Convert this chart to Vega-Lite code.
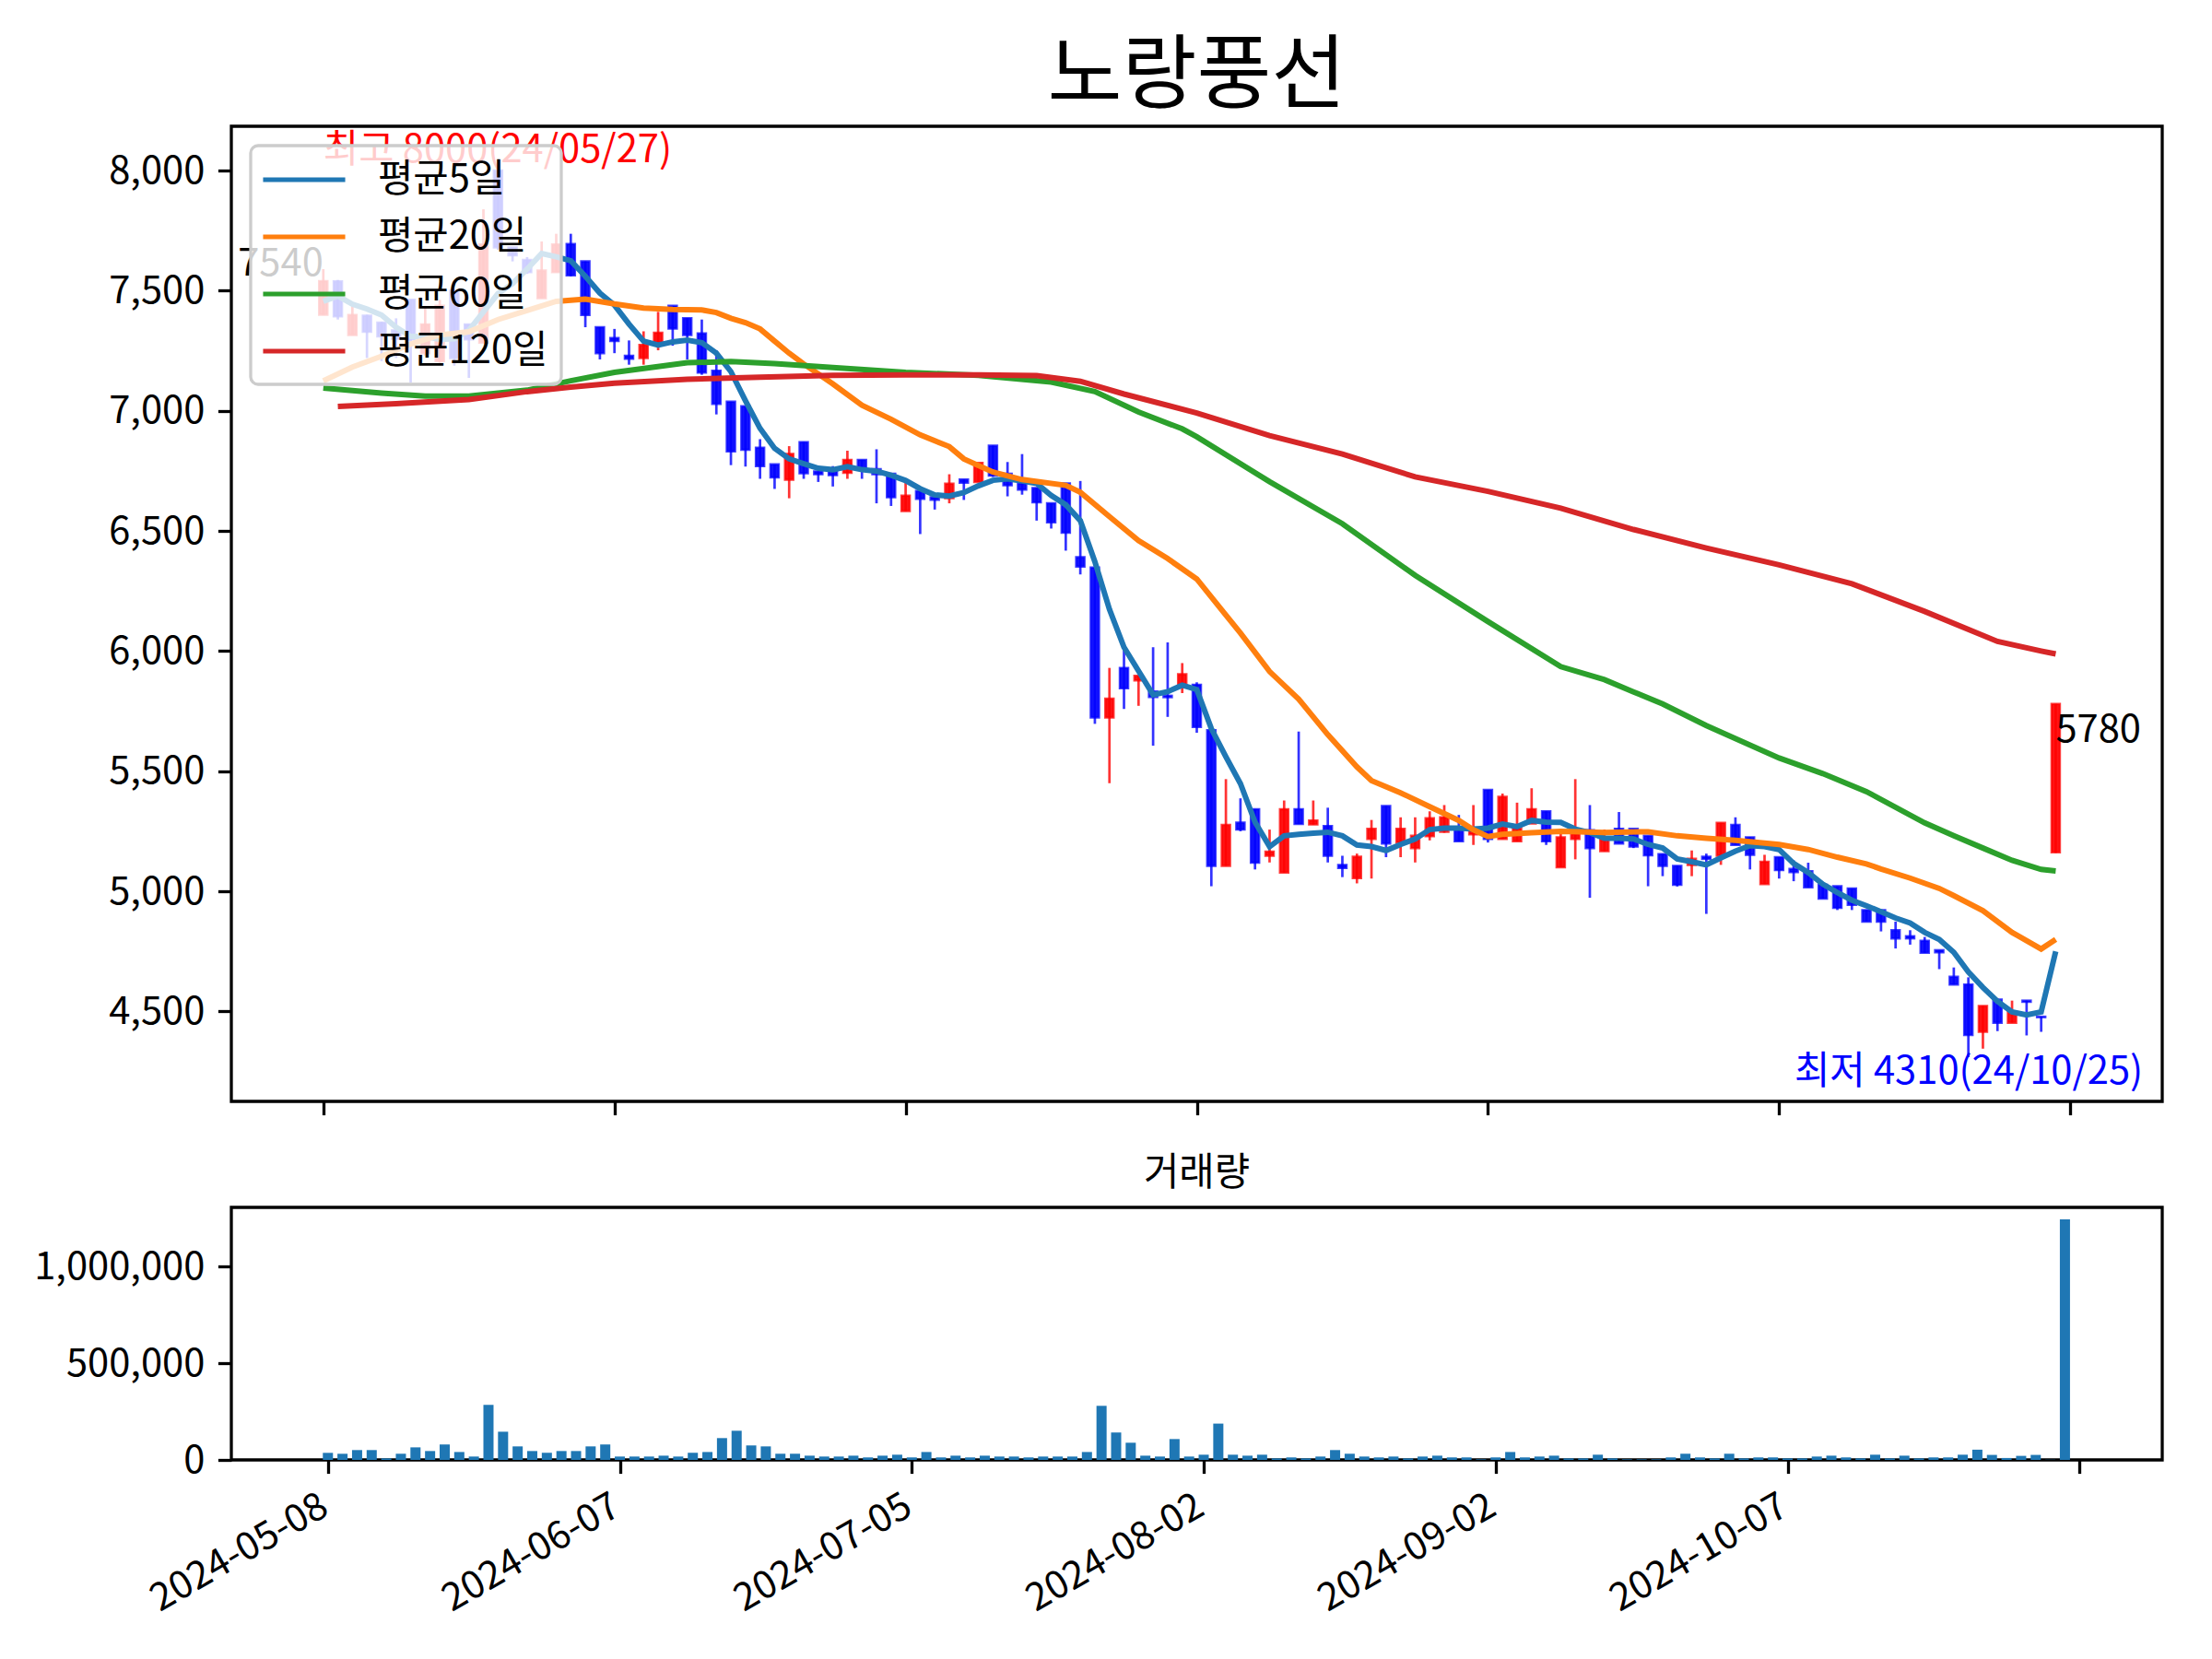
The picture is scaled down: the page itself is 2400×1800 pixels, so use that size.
{
  "$schema": "https://vega.github.io/schema/vega-lite/v6.json",
  "background": "white",
  "padding": {"left": 35, "top": 38, "right": 20, "bottom": 20},
  "spacing": 115,
  "bounds": "flush",
  "config": {
    "font": "Noto Sans CJK KR",
    "view": {"stroke": "#000000", "strokeWidth": 3.3},
    "axis": {
      "grid": false, "domain": false, "ticks": true,
      "tickColor": "#000000", "tickWidth": 3.3, "tickSize": 14.6,
      "labelFont": "Noto Sans CJK KR", "labelFontSize": 41.7, "labelColor": "#000000", "labelPadding": 14.6, "labelLimit": 500
    },
    "title": {"font": "Noto Sans CJK KR", "fontWeight": "normal", "color": "#000000", "anchor": "middle", "frame": "group"},
    "text": {"font": "Noto Sans CJK KR", "fontSize": 41.7},
    "legend": {"strokeWidth": 3.3}
  },
  "datasets": {
    "ohlc": [
      {"i":0,"d":"2024-05-08","o":7400,"h":7590,"l":7400,"c":7540,"v":36600},
      {"i":1,"d":"2024-05-09","o":7539,"h":7545,"l":7380,"c":7393,"v":31800},
      {"i":2,"d":"2024-05-10","o":7316,"h":7437,"l":7316,"c":7399,"v":51000},
      {"i":3,"d":"2024-05-13","o":7396,"h":7400,"l":7220,"c":7329,"v":51000},
      {"i":4,"d":"2024-05-14","o":7367,"h":7370,"l":7207,"c":7310,"v":8000},
      {"i":5,"d":"2024-05-16","o":7335,"h":7385,"l":7220,"c":7300,"v":32000},
      {"i":6,"d":"2024-05-17","o":7462,"h":7462,"l":7118,"c":7297,"v":65000},
      {"i":7,"d":"2024-05-20","o":7240,"h":7437,"l":7230,"c":7360,"v":46000},
      {"i":8,"d":"2024-05-21","o":7207,"h":7462,"l":7200,"c":7437,"v":80000},
      {"i":9,"d":"2024-05-22","o":7500,"h":7500,"l":7188,"c":7220,"v":41000},
      {"i":10,"d":"2024-05-23","o":7360,"h":7360,"l":7137,"c":7297,"v":17500},
      {"i":11,"d":"2024-05-24","o":7284,"h":7839,"l":7284,"c":7692,"v":285000},
      {"i":12,"d":"2024-05-27","o":8000,"h":8000,"l":7670,"c":7680,"v":146000},
      {"i":13,"d":"2024-05-28","o":7680,"h":7680,"l":7622,"c":7647,"v":70000},
      {"i":14,"d":"2024-05-29","o":7628,"h":7640,"l":7570,"c":7577,"v":46000},
      {"i":15,"d":"2024-05-30","o":7469,"h":7705,"l":7469,"c":7584,"v":37000},
      {"i":16,"d":"2024-05-31","o":7577,"h":7737,"l":7577,"c":7692,"v":46000},
      {"i":17,"d":"2024-06-03","o":7694,"h":7737,"l":7560,"c":7564,"v":46000},
      {"i":18,"d":"2024-06-04","o":7622,"h":7622,"l":7348,"c":7399,"v":70000},
      {"i":19,"d":"2024-06-05","o":7348,"h":7348,"l":7214,"c":7240,"v":80000},
      {"i":20,"d":"2024-06-07","o":7303,"h":7341,"l":7240,"c":7291,"v":17500},
      {"i":21,"d":"2024-06-10","o":7229,"h":7293,"l":7192,"c":7217,"v":17500},
      {"i":22,"d":"2024-06-11","o":7220,"h":7331,"l":7192,"c":7274,"v":17500},
      {"i":23,"d":"2024-06-12","o":7284,"h":7412,"l":7252,"c":7325,"v":22000},
      {"i":24,"d":"2024-06-13","o":7437,"h":7437,"l":7271,"c":7342,"v":17500},
      {"i":25,"d":"2024-06-14","o":7386,"h":7386,"l":7214,"c":7316,"v":37000},
      {"i":26,"d":"2024-06-17","o":7322,"h":7380,"l":7150,"c":7159,"v":41000},
      {"i":27,"d":"2024-06-18","o":7167,"h":7252,"l":6985,"c":7029,"v":113000},
      {"i":28,"d":"2024-06-19","o":7038,"h":7038,"l":6774,"c":6831,"v":151000},
      {"i":29,"d":"2024-06-20","o":7019,"h":7019,"l":6768,"c":6838,"v":75000},
      {"i":30,"d":"2024-06-21","o":6847,"h":6882,"l":6717,"c":6770,"v":70000},
      {"i":31,"d":"2024-06-24","o":6777,"h":6777,"l":6675,"c":6723,"v":32000},
      {"i":32,"d":"2024-06-25","o":6713,"h":6853,"l":6636,"c":6821,"v":32000},
      {"i":33,"d":"2024-06-26","o":6870,"h":6870,"l":6717,"c":6740,"v":22000},
      {"i":34,"d":"2024-06-27","o":6748,"h":6748,"l":6704,"c":6736,"v":17500},
      {"i":35,"d":"2024-06-28","o":6757,"h":6770,"l":6685,"c":6732,"v":17500},
      {"i":36,"d":"2024-07-01","o":6742,"h":6834,"l":6717,"c":6796,"v":22000},
      {"i":37,"d":"2024-07-02","o":6796,"h":6796,"l":6717,"c":6755,"v":13000},
      {"i":38,"d":"2024-07-03","o":6757,"h":6840,"l":6615,"c":6736,"v":22000},
      {"i":39,"d":"2024-07-04","o":6738,"h":6738,"l":6604,"c":6640,"v":27000},
      {"i":40,"d":"2024-07-05","o":6583,"h":6704,"l":6583,"c":6647,"v":13000},
      {"i":41,"d":"2024-07-08","o":6666,"h":6666,"l":6487,"c":6634,"v":41000},
      {"i":42,"d":"2024-07-09","o":6640,"h":6640,"l":6589,"c":6630,"v":13000},
      {"i":43,"d":"2024-07-10","o":6636,"h":6736,"l":6615,"c":6697,"v":22000},
      {"i":44,"d":"2024-07-11","o":6714,"h":6714,"l":6629,"c":6701,"v":13000},
      {"i":45,"d":"2024-07-12","o":6704,"h":6783,"l":6704,"c":6783,"v":22000},
      {"i":46,"d":"2024-07-15","o":6855,"h":6855,"l":6725,"c":6730,"v":17500},
      {"i":47,"d":"2024-07-16","o":6738,"h":6787,"l":6644,"c":6690,"v":17500},
      {"i":48,"d":"2024-07-17","o":6698,"h":6820,"l":6651,"c":6672,"v":13000},
      {"i":49,"d":"2024-07-18","o":6679,"h":6679,"l":6543,"c":6619,"v":17500},
      {"i":50,"d":"2024-07-19","o":6615,"h":6615,"l":6510,"c":6536,"v":17500},
      {"i":51,"d":"2024-07-22","o":6698,"h":6698,"l":6418,"c":6493,"v":17500},
      {"i":52,"d":"2024-07-23","o":6391,"h":6708,"l":6319,"c":6352,"v":41000},
      {"i":53,"d":"2024-07-24","o":6348,"h":6348,"l":5697,"c":5723,"v":280000},
      {"i":54,"d":"2024-07-25","o":5723,"h":5930,"l":5450,"c":5802,"v":142000},
      {"i":55,"d":"2024-07-26","o":5930,"h":6029,"l":5759,"c":5845,"v":89000},
      {"i":56,"d":"2024-07-29","o":5878,"h":5897,"l":5772,"c":5897,"v":22000},
      {"i":57,"d":"2024-07-30","o":5832,"h":6016,"l":5606,"c":5809,"v":17500},
      {"i":58,"d":"2024-07-31","o":5814,"h":6036,"l":5726,"c":5808,"v":108000},
      {"i":59,"d":"2024-08-01","o":5858,"h":5950,"l":5825,"c":5904,"v":17500},
      {"i":60,"d":"2024-08-02","o":5860,"h":5870,"l":5660,"c":5684,"v":27000},
      {"i":61,"d":"2024-08-05","o":5671,"h":5671,"l":5021,"c":5106,"v":188000},
      {"i":62,"d":"2024-08-06","o":5106,"h":5467,"l":5106,"c":5276,"v":27000},
      {"i":63,"d":"2024-08-07","o":5286,"h":5387,"l":5250,"c":5257,"v":22000},
      {"i":64,"d":"2024-08-08","o":5342,"h":5342,"l":5091,"c":5119,"v":27000},
      {"i":65,"d":"2024-08-09","o":5148,"h":5257,"l":5120,"c":5165,"v":8000},
      {"i":66,"d":"2024-08-12","o":5078,"h":5378,"l":5078,"c":5342,"v":13000},
      {"i":67,"d":"2024-08-13","o":5342,"h":5665,"l":5280,"c":5280,"v":8000},
      {"i":68,"d":"2024-08-14","o":5278,"h":5378,"l":5278,"c":5295,"v":17500},
      {"i":69,"d":"2024-08-16","o":5272,"h":5348,"l":5120,"c":5148,"v":51000},
      {"i":70,"d":"2024-08-19","o":5110,"h":5148,"l":5059,"c":5097,"v":32000},
      {"i":71,"d":"2024-08-20","o":5055,"h":5157,"l":5033,"c":5144,"v":17500},
      {"i":72,"d":"2024-08-21","o":5218,"h":5297,"l":5053,"c":5260,"v":13000},
      {"i":73,"d":"2024-08-22","o":5355,"h":5355,"l":5142,"c":5199,"v":17500},
      {"i":74,"d":"2024-08-23","o":5203,"h":5308,"l":5142,"c":5260,"v":8000},
      {"i":75,"d":"2024-08-26","o":5180,"h":5308,"l":5120,"c":5231,"v":17500},
      {"i":76,"d":"2024-08-27","o":5229,"h":5333,"l":5212,"c":5304,"v":22000},
      {"i":77,"d":"2024-08-28","o":5248,"h":5359,"l":5244,"c":5308,"v":13000},
      {"i":78,"d":"2024-08-29","o":5257,"h":5318,"l":5208,"c":5208,"v":13000},
      {"i":79,"d":"2024-08-30","o":5237,"h":5359,"l":5193,"c":5257,"v":3000},
      {"i":80,"d":"2024-09-02","o":5422,"h":5422,"l":5203,"c":5218,"v":13000},
      {"i":81,"d":"2024-09-03","o":5218,"h":5407,"l":5218,"c":5393,"v":41000},
      {"i":82,"d":"2024-09-04","o":5208,"h":5369,"l":5208,"c":5263,"v":13000},
      {"i":83,"d":"2024-09-05","o":5282,"h":5429,"l":5282,"c":5342,"v":17500},
      {"i":84,"d":"2024-09-06","o":5333,"h":5333,"l":5193,"c":5208,"v":22000},
      {"i":85,"d":"2024-09-09","o":5100,"h":5238,"l":5100,"c":5225,"v":8000},
      {"i":86,"d":"2024-09-10","o":5218,"h":5467,"l":5133,"c":5238,"v":8000},
      {"i":87,"d":"2024-09-11","o":5254,"h":5359,"l":4973,"c":5180,"v":27000},
      {"i":88,"d":"2024-09-12","o":5167,"h":5257,"l":5167,"c":5221,"v":8000},
      {"i":89,"d":"2024-09-13","o":5260,"h":5330,"l":5199,"c":5199,"v":3000},
      {"i":90,"d":"2024-09-19","o":5260,"h":5260,"l":5180,"c":5186,"v":3000},
      {"i":91,"d":"2024-09-20","o":5231,"h":5231,"l":5021,"c":5150,"v":3000},
      {"i":92,"d":"2024-09-23","o":5155,"h":5155,"l":5063,"c":5106,"v":13000},
      {"i":93,"d":"2024-09-24","o":5106,"h":5106,"l":5020,"c":5027,"v":32000},
      {"i":94,"d":"2024-09-25","o":5110,"h":5170,"l":5063,"c":5135,"v":13000},
      {"i":95,"d":"2024-09-26","o":5144,"h":5157,"l":4906,"c":5135,"v":8000},
      {"i":96,"d":"2024-09-27","o":5148,"h":5285,"l":5110,"c":5285,"v":32000},
      {"i":97,"d":"2024-09-30","o":5276,"h":5308,"l":5193,"c":5193,"v":8000},
      {"i":98,"d":"2024-10-02","o":5225,"h":5225,"l":5091,"c":5152,"v":13000},
      {"i":99,"d":"2024-10-04","o":5030,"h":5152,"l":5030,"c":5123,"v":13000},
      {"i":100,"d":"2024-10-07","o":5142,"h":5142,"l":5053,"c":5088,"v":8000},
      {"i":101,"d":"2024-10-08","o":5093,"h":5129,"l":5042,"c":5080,"v":8000},
      {"i":102,"d":"2024-10-10","o":5084,"h":5119,"l":5017,"c":5017,"v":17500},
      {"i":103,"d":"2024-10-11","o":5027,"h":5027,"l":4970,"c":4970,"v":22000},
      {"i":104,"d":"2024-10-14","o":5021,"h":5021,"l":4922,"c":4931,"v":13000},
      {"i":105,"d":"2024-10-15","o":5012,"h":5012,"l":4922,"c":4944,"v":8000},
      {"i":106,"d":"2024-10-16","o":4922,"h":4922,"l":4874,"c":4874,"v":27000},
      {"i":107,"d":"2024-10-17","o":4922,"h":4922,"l":4833,"c":4874,"v":8000},
      {"i":108,"d":"2024-10-18","o":4838,"h":4874,"l":4762,"c":4804,"v":22000},
      {"i":109,"d":"2024-10-21","o":4813,"h":4838,"l":4778,"c":4804,"v":8000},
      {"i":110,"d":"2024-10-22","o":4794,"h":4810,"l":4744,"c":4744,"v":13000},
      {"i":111,"d":"2024-10-23","o":4755,"h":4755,"l":4676,"c":4746,"v":13000},
      {"i":112,"d":"2024-10-24","o":4644,"h":4683,"l":4612,"c":4612,"v":27000},
      {"i":113,"d":"2024-10-25","o":4612,"h":4642,"l":4310,"c":4402,"v":53000},
      {"i":114,"d":"2024-10-28","o":4415,"h":4523,"l":4345,"c":4523,"v":26000},
      {"i":115,"d":"2024-10-29","o":4549,"h":4549,"l":4418,"c":4453,"v":10000},
      {"i":116,"d":"2024-10-30","o":4453,"h":4545,"l":4453,"c":4498,"v":21000},
      {"i":117,"d":"2024-10-31","o":4545,"h":4545,"l":4400,"c":4540,"v":26000},
      {"i":118,"d":"2024-11-01","o":4478,"h":4478,"l":4415,"c":4476,"v":1000},
      {"i":119,"d":"2024-11-04","o":5162,"h":5780,"l":5160,"c":5780,"v":1245000}
    ],
    "ma": [
      {"i":0,"s":"평균5일","v":7456},{"i":1,"s":"평균5일","v":7478},{"i":2,"s":"평균5일","v":7444},{"i":3,"s":"평균5일","v":7424},
      {"i":4,"s":"평균5일","v":7399},{"i":5,"s":"평균5일","v":7348},{"i":6,"s":"평균5일","v":7310},{"i":7,"s":"평균5일","v":7310},
      {"i":8,"s":"평균5일","v":7297},{"i":9,"s":"평균5일","v":7300},{"i":10,"s":"평균5일","v":7335},{"i":11,"s":"평균5일","v":7412},
      {"i":12,"s":"평균5일","v":7488},{"i":13,"s":"평균5일","v":7530},{"i":14,"s":"평균5일","v":7590},{"i":15,"s":"평균5일","v":7655},
      {"i":16,"s":"평균5일","v":7641},{"i":17,"s":"평균5일","v":7625},{"i":18,"s":"평균5일","v":7560},{"i":19,"s":"평균5일","v":7490},
      {"i":20,"s":"평균5일","v":7440},{"i":21,"s":"평균5일","v":7361},{"i":22,"s":"평균5일","v":7290},{"i":23,"s":"평균5일","v":7274},
      {"i":24,"s":"평균5일","v":7287},{"i":25,"s":"평균5일","v":7294},{"i":26,"s":"평균5일","v":7284},{"i":27,"s":"평균5일","v":7240},
      {"i":28,"s":"평균5일","v":7163},{"i":29,"s":"평균5일","v":7042},{"i":30,"s":"평균5일","v":6927},{"i":31,"s":"평균5일","v":6844},
      {"i":32,"s":"평균5일","v":6800},{"i":33,"s":"평균5일","v":6780},{"i":34,"s":"평균5일","v":6761},{"i":35,"s":"평균5일","v":6755},
      {"i":36,"s":"평균5일","v":6768},{"i":37,"s":"평균5일","v":6755},{"i":38,"s":"평균5일","v":6749},{"i":39,"s":"평균5일","v":6732},
      {"i":40,"s":"평균5일","v":6710},{"i":41,"s":"평균5일","v":6676},{"i":42,"s":"평균5일","v":6650},{"i":43,"s":"평균5일","v":6645},
      {"i":44,"s":"평균5일","v":6660},{"i":45,"s":"평균5일","v":6688},{"i":46,"s":"평균5일","v":6711},{"i":47,"s":"평균5일","v":6717},
      {"i":48,"s":"평균5일","v":6708},{"i":49,"s":"평균5일","v":6698},{"i":50,"s":"평균5일","v":6648},{"i":51,"s":"평균5일","v":6609},
      {"i":52,"s":"평균5일","v":6543},{"i":53,"s":"평균5일","v":6372},{"i":54,"s":"평균5일","v":6174},{"i":55,"s":"평균5일","v":6016},
      {"i":56,"s":"평균5일","v":5917},{"i":57,"s":"평균5일","v":5818},{"i":58,"s":"평균5일","v":5831},{"i":59,"s":"평균5일","v":5858},
      {"i":60,"s":"평균5일","v":5840},{"i":61,"s":"평균5일","v":5677},{"i":62,"s":"평균5일","v":5560},{"i":63,"s":"평균5일","v":5448},
      {"i":64,"s":"평균5일","v":5288},{"i":65,"s":"평균5일","v":5186},{"i":66,"s":"평균5일","v":5231},{"i":67,"s":"평균5일","v":5237},
      {"i":68,"s":"평균5일","v":5242},{"i":69,"s":"평균5일","v":5246},{"i":70,"s":"평균5일","v":5231},{"i":71,"s":"평균5일","v":5193},
      {"i":72,"s":"평균5일","v":5186},{"i":73,"s":"평균5일","v":5170},{"i":74,"s":"평균5일","v":5195},{"i":75,"s":"평균5일","v":5218},
      {"i":76,"s":"평균5일","v":5257},{"i":77,"s":"평균5일","v":5263},{"i":78,"s":"평균5일","v":5263},{"i":79,"s":"평균5일","v":5259},
      {"i":80,"s":"평균5일","v":5263},{"i":81,"s":"평균5일","v":5280},{"i":82,"s":"평균5일","v":5269},{"i":83,"s":"평균5일","v":5295},
      {"i":84,"s":"평균5일","v":5288},{"i":85,"s":"평균5일","v":5287},{"i":86,"s":"평균5일","v":5259},{"i":87,"s":"평균5일","v":5244},
      {"i":88,"s":"평균5일","v":5221},{"i":89,"s":"평균5일","v":5221},{"i":90,"s":"평균5일","v":5218},{"i":91,"s":"평균5일","v":5195},
      {"i":92,"s":"평균5일","v":5180},{"i":93,"s":"평균5일","v":5135},{"i":94,"s":"평균5일","v":5123},{"i":95,"s":"평균5일","v":5110},
      {"i":96,"s":"평균5일","v":5139},{"i":97,"s":"평균5일","v":5167},{"i":98,"s":"평균5일","v":5190},{"i":99,"s":"평균5일","v":5186},
      {"i":100,"s":"평균5일","v":5174},{"i":101,"s":"평균5일","v":5116},{"i":102,"s":"평균5일","v":5078},{"i":103,"s":"평균5일","v":5030},
      {"i":104,"s":"평균5일","v":4995},{"i":105,"s":"평균5일","v":4963},{"i":106,"s":"평균5일","v":4940},{"i":107,"s":"평균5일","v":4915},
      {"i":108,"s":"평균5일","v":4889},{"i":109,"s":"평균5일","v":4868},{"i":110,"s":"평균5일","v":4829},{"i":111,"s":"평균5일","v":4800},
      {"i":112,"s":"평균5일","v":4746},{"i":113,"s":"평균5일","v":4664},{"i":114,"s":"평균5일","v":4600},{"i":115,"s":"평균5일","v":4542},
      {"i":116,"s":"평균5일","v":4498},{"i":117,"s":"평균5일","v":4485},{"i":118,"s":"평균5일","v":4498},{"i":119,"s":"평균5일","v":4750},

      {"i":0,"s":"평균20일","v":7125},{"i":2,"s":"평균20일","v":7182},{"i":4,"s":"평균20일","v":7227},{"i":6,"s":"평균20일","v":7278},
      {"i":8,"s":"평균20일","v":7316},{"i":10,"s":"평균20일","v":7329},{"i":12,"s":"평균20일","v":7380},{"i":14,"s":"평균20일","v":7418},
      {"i":16,"s":"평균20일","v":7456},{"i":18,"s":"평균20일","v":7465},{"i":20,"s":"평균20일","v":7445},{"i":22,"s":"평균20일","v":7428},
      {"i":24,"s":"평균20일","v":7422},{"i":26,"s":"평균20일","v":7420},{"i":27,"s":"평균20일","v":7409},{"i":28,"s":"평균20일","v":7385},
      {"i":29,"s":"평균20일","v":7367},{"i":30,"s":"평균20일","v":7341},{"i":31,"s":"평균20일","v":7290},{"i":32,"s":"평균20일","v":7240},
      {"i":33,"s":"평균20일","v":7195},{"i":35,"s":"평균20일","v":7112},{"i":37,"s":"평균20일","v":7023},{"i":39,"s":"평균20일","v":6965},
      {"i":41,"s":"평균20일","v":6900},{"i":43,"s":"평균20일","v":6851},{"i":44,"s":"평균20일","v":6800},{"i":46,"s":"평균20일","v":6745},
      {"i":48,"s":"평균20일","v":6714},{"i":51,"s":"평균20일","v":6690},{"i":52,"s":"평균20일","v":6661},{"i":54,"s":"평균20일","v":6560},
      {"i":56,"s":"평균20일","v":6460},{"i":58,"s":"평균20일","v":6385},{"i":60,"s":"평균20일","v":6300},{"i":62,"s":"평균20일","v":6150},
      {"i":63,"s":"평균20일","v":6075},{"i":65,"s":"평균20일","v":5915},{"i":67,"s":"평균20일","v":5800},{"i":69,"s":"평균20일","v":5652},
      {"i":71,"s":"평균20일","v":5518},{"i":72,"s":"평균20일","v":5461},{"i":74,"s":"평균20일","v":5410},{"i":76,"s":"평균20일","v":5352},
      {"i":78,"s":"평균20일","v":5295},{"i":79,"s":"평균20일","v":5256},{"i":80,"s":"평균20일","v":5228},{"i":81,"s":"평균20일","v":5237},
      {"i":83,"s":"평균20일","v":5244},{"i":85,"s":"평균20일","v":5250},{"i":88,"s":"평균20일","v":5245},{"i":91,"s":"평균20일","v":5248},
      {"i":93,"s":"평균20일","v":5231},{"i":95,"s":"평균20일","v":5221},{"i":97,"s":"평균20일","v":5212},{"i":100,"s":"평균20일","v":5195},
      {"i":102,"s":"평균20일","v":5174},{"i":104,"s":"평균20일","v":5142},{"i":106,"s":"평균20일","v":5114},{"i":107,"s":"평균20일","v":5093},
      {"i":109,"s":"평균20일","v":5055},{"i":111,"s":"평균20일","v":5012},{"i":112,"s":"평균20일","v":4982},{"i":114,"s":"평균20일","v":4919},
      {"i":116,"s":"평균20일","v":4829},{"i":118,"s":"평균20일","v":4760},{"i":119,"s":"평균20일","v":4800},

      {"i":0,"s":"평균60일","v":7095},{"i":4,"s":"평균60일","v":7074},{"i":7,"s":"평균60일","v":7061},{"i":10,"s":"평균60일","v":7061},
      {"i":14,"s":"평균60일","v":7086},{"i":17,"s":"평균60일","v":7125},{"i":20,"s":"평균60일","v":7160},{"i":25,"s":"평균60일","v":7200},
      {"i":28,"s":"평균60일","v":7205},{"i":31,"s":"평균60일","v":7197},{"i":35,"s":"평균60일","v":7180},{"i":40,"s":"평균60일","v":7160},
      {"i":45,"s":"평균60일","v":7148},{"i":50,"s":"평균60일","v":7120},{"i":53,"s":"평균60일","v":7080},{"i":56,"s":"평균60일","v":6995},
      {"i":59,"s":"평균60일","v":6925},{"i":60,"s":"평균60일","v":6892},{"i":65,"s":"평균60일","v":6705},{"i":70,"s":"평균60일","v":6530},
      {"i":75,"s":"평균60일","v":6315},{"i":80,"s":"평균60일","v":6123},{"i":85,"s":"평균60일","v":5935},{"i":88,"s":"평균60일","v":5881},
      {"i":90,"s":"평균60일","v":5830},{"i":92,"s":"평균60일","v":5780},{"i":95,"s":"평균60일","v":5690},{"i":100,"s":"평균60일","v":5555},
      {"i":103,"s":"평균60일","v":5490},{"i":106,"s":"평균60일","v":5415},{"i":110,"s":"평균60일","v":5285},{"i":112,"s":"평균60일","v":5231},
      {"i":114,"s":"평균60일","v":5180},{"i":116,"s":"평균60일","v":5129},{"i":118,"s":"평균60일","v":5091},{"i":119,"s":"평균60일","v":5085},

      {"i":1,"s":"평균120일","v":7018},{"i":5,"s":"평균120일","v":7030},{"i":10,"s":"평균120일","v":7047},{"i":14,"s":"평균120일","v":7080},
      {"i":17,"s":"평균120일","v":7099},{"i":20,"s":"평균120일","v":7115},{"i":25,"s":"평균120일","v":7131},{"i":30,"s":"평균120일","v":7140},
      {"i":35,"s":"평균120일","v":7148},{"i":40,"s":"평균120일","v":7150},{"i":45,"s":"평균120일","v":7150},{"i":49,"s":"평균120일","v":7147},
      {"i":52,"s":"평균120일","v":7123},{"i":55,"s":"평균120일","v":7070},{"i":60,"s":"평균120일","v":6991},{"i":65,"s":"평균120일","v":6897},
      {"i":70,"s":"평균120일","v":6820},{"i":75,"s":"평균120일","v":6725},{"i":80,"s":"평균120일","v":6665},{"i":85,"s":"평균120일","v":6595},
      {"i":90,"s":"평균120일","v":6506},{"i":95,"s":"평균120일","v":6429},{"i":100,"s":"평균120일","v":6359},{"i":105,"s":"평균120일","v":6280},
      {"i":110,"s":"평균120일","v":6165},{"i":115,"s":"평균120일","v":6040},{"i":118,"s":"평균120일","v":6000},{"i":119,"s":"평균120일","v":5988}
    ]
  },
  "vconcat": [
    {
      "width": 2095,
      "height": 1058,
      "title": {"text": "노랑풍선", "fontSize": 88, "offset": 9},
      "layer": [
        {
          "data": {"name": "ohlc"},
          "mark": {"type": "rule", "strokeWidth": 2.7, "opacity": 0.8},
          "encoding": {
            "x": {"field": "i", "type": "quantitative", "title": null,
                  "scale": {"domain": [-6, 126], "nice": false, "zero": false},
                  "axis": {"values": [0, 20, 40, 60, 80, 100, 120], "labels": false}},
            "y": {"field": "l", "type": "quantitative", "title": null,
                  "scale": {"domain": [4125.5, 8184.5], "nice": false, "zero": false},
                  "axis": {"values": [4500, 5000, 5500, 6000, 6500, 7000, 7500, 8000], "labelExpr": "format(datum.value, ',.0f')"}},
            "y2": {"field": "h"},
            "color": {"condition": {"test": "datum.c >= datum.o", "value": "#ff0000"}, "value": "#0000ff"}
          }
        },
        {
          "data": {"name": "ohlc"},
          "mark": {"type": "bar", "width": 9, "strokeWidth": 2.5, "fillOpacity": 0.92, "strokeOpacity": 0.75},
          "encoding": {
            "x": {"field": "i", "type": "quantitative", "title": null},
            "y": {"field": "o", "type": "quantitative", "title": null},
            "y2": {"field": "c"},
            "fill": {"condition": {"test": "datum.c >= datum.o", "value": "#ff0000"}, "value": "#0000ff"},
            "stroke": {"condition": {"test": "datum.c >= datum.o", "value": "#ff0000"}, "value": "#0000ff"}
          }
        },
        {
          "data": {"name": "ma"},
          "mark": {"type": "line", "strokeWidth": 6},
          "encoding": {
            "x": {"field": "i", "type": "quantitative", "title": null},
            "y": {"field": "v", "type": "quantitative", "title": null},
            "color": {
              "field": "s", "type": "nominal",
              "scale": {"domain": ["평균5일", "평균20일", "평균60일", "평균120일"],
                        "range": ["#1f77b4", "#ff7f0e", "#2ca02c", "#d62728"]},
              "legend": {
                "orient": "none", "legendX": 21, "legendY": 21, "title": null,
                "symbolType": "M-2.2,0H2.2", "symbolSize": 1640, "symbolStrokeWidth": 5,
                "symbolOffset": 21, "labelOffset": 57,
                "labelFontSize": 41.7, "labelFont": "Noto Sans CJK KR", "labelColor": "#000000", "labelLimit": 400,
                "rowPadding": 17, "padding": 14,
                "fillColor": "rgba(255,255,255,0.8)", "strokeColor": "#cccccc", "cornerRadius": 8,
                "zindex": 1
              }
            }
          }
        },
        {
          "data": {"values": [{"i": 0, "p": 8000, "t": "최고 8000(24/05/27)"}]},
          "mark": {"type": "text", "align": "left", "baseline": "bottom", "color": "#ff0000"},
          "encoding": {
            "x": {"field": "i", "type": "quantitative", "title": null},
            "y": {"field": "p", "type": "quantitative", "title": null},
            "text": {"field": "t"}
          }
        },
        {
          "data": {"values": [{"i": 0, "p": 7540, "t": "7540"}]},
          "mark": {"type": "text", "align": "right", "baseline": "bottom", "dy": 3, "color": "#000000"},
          "encoding": {
            "x": {"field": "i", "type": "quantitative", "title": null},
            "y": {"field": "p", "type": "quantitative", "title": null},
            "text": {"field": "t"}
          }
        },
        {
          "data": {"values": [{"i": 119, "p": 5780, "t": "5780"}]},
          "mark": {"type": "text", "align": "left", "baseline": "top", "dy": 8, "color": "#000000"},
          "encoding": {
            "x": {"field": "i", "type": "quantitative", "title": null},
            "y": {"field": "p", "type": "quantitative", "title": null},
            "text": {"field": "t"}
          }
        },
        {
          "data": {"values": [{"i": 125, "p": 4310, "t": "최저 4310(24/10/25)"}]},
          "mark": {"type": "text", "align": "right", "baseline": "top", "dy": -4, "color": "#0000ff"},
          "encoding": {
            "x": {"field": "i", "type": "quantitative", "title": null},
            "y": {"field": "p", "type": "quantitative", "title": null},
            "text": {"field": "t"}
          }
        }
      ]
    },
    {
      "width": 2095,
      "height": 274,
      "title": {"text": "거래량", "fontSize": 41.7, "offset": 15},
      "data": {"name": "ohlc"},
      "mark": {"type": "bar", "width": 11, "color": "#1f77b4"},
      "encoding": {
        "x": {"field": "i", "type": "quantitative", "title": null,
              "scale": {"domain": [-6.3, 125.35], "nice": false, "zero": false},
              "axis": {"values": [0, 20, 40, 60, 80, 100, 120], "labelAngle": -30, "labelAlign": "right", "labelBaseline": "top", "labelOffset": -14,
                       "labelExpr": "datum.value == 0 ? '2024-05-08' : datum.value == 20 ? '2024-06-07' : datum.value == 40 ? '2024-07-05' : datum.value == 60 ? '2024-08-02' : datum.value == 80 ? '2024-09-02' : datum.value == 100 ? '2024-10-07' : ''"}},
        "y": {"field": "v", "type": "quantitative", "title": null,
              "scale": {"domain": [0, 1307250], "nice": false},
              "axis": {"values": [0, 500000, 1000000], "labelExpr": "format(datum.value, ',.0f')"}}
      }
    }
  ]
}
